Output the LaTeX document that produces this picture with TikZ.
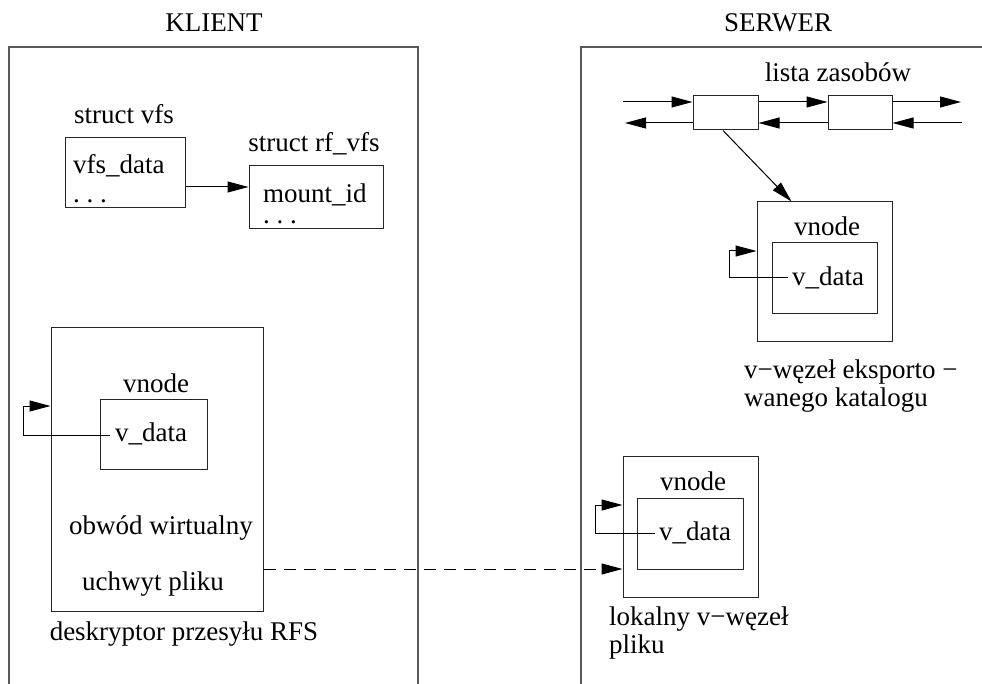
\documentclass[tikz,border=0pt]{standalone}
\usepackage{fontspec}
\setmainfont{Liberation Serif}
\usetikzlibrary{arrows.meta,calc}
\begin{document}
\begin{tikzpicture}[x=1pt,y=-1pt,
  panel/.style={line width=1.6pt, draw=black!65},
  box/.style={draw=black!85, line width=1pt, rectangle, inner sep=0pt},
  lbl/.style={font=\fontsize{27}{32}\selectfont, inner sep=0pt},
  arr/.style={line width=1pt, -{Triangle[length=21pt,width=11pt]}},
  dasharr/.style={arr, dash pattern=on 12pt off 8pt}]
\useasboundingbox (0,0) rectangle (982,684);
% panels
\draw[panel] (9,684) -- (9,47) -- (418,47) -- (418,684);
\draw[panel] (581,684) -- (581,47) -- (984,47);
\node[lbl, anchor=base] (tklient) at (214,32) {KLIENT};
\node[lbl, anchor=base] (tserwer) at (778,32) {SERWER};
% client structs
\node[lbl, anchor=base] (tsvfs) at (124,124) {struct vfs};
\node[box, minimum width=120pt, minimum height=70pt] (vfs) at (125,173) {};
\node[lbl, anchor=base west, text depth=2pt] (tvfsdata) at (73,174) {vfs\_data};
\node[lbl, anchor=base west, text height=3pt] (tdots1) at (73,203) {.\ .\ .};
\node[lbl, anchor=base] (tsrf) at (314,152) {struct rf\_vfs};
\node[box, minimum width=134pt, minimum height=63pt] (rf) at (316,197.5) {};
\node[lbl, anchor=base west, text depth=2pt] (tmount) at (263,203) {mount\_id};
\node[lbl, anchor=base west, text height=3pt] (tdots2) at (263,224) {.\ .\ .};
\draw[arr] (vfs.east |- 0,187) -- (rf.west |- 0,187);
% RFS descriptor
\node[box, minimum width=212pt, minimum height=283pt] (rfs) at (157,469.5) {};
\node[lbl, anchor=base] (tlvnode) at (156,392) {vnode};
\node[box, minimum width=107pt, minimum height=70pt] (lvi) at (153.5,434) {};
\node[lbl, anchor=base west] (lvd) at (115,441) {v\_data};
\draw[arr] ($(lvd.base west)+(-5,-6)$) -- (23,435) -- (23,406) -- (rfs.west |- 0,406);
\node[lbl, anchor=base] (tobw) at (161,534) {obwód wirtualny};
\node[lbl, anchor=base] (tuch) at (153,590) {uchwyt pliku};
\node[lbl, anchor=base] (tdesk) at (184,640) {deskryptor przesyłu RFS};
% server list
\node[lbl, anchor=base] (tlista) at (838,82) {lista zasobów};
\node[box, minimum width=65pt, minimum height=34pt] (b1) at (725.5,113) {};
\node[box, minimum width=64pt, minimum height=34pt] (b2) at (860,113) {};
\coordinate (lin) at (623,102);
\coordinate (lout) at (625,123);
\coordinate (rout) at (961,102);
\coordinate (rin) at (962,123);
\draw[arr] (lin) -- (lin -| b1.west);
\draw[arr] (b1.east |- lin) -- (b2.west |- lin);
\draw[arr] (b2.east |- lin) -- (rout);
\draw[arr] (b1.west |- lout) -- (lout);
\draw[arr] (b2.west |- lout) -- (b1.east |- lout);
\draw[arr] (rin) -- (b2.east |- rin);
% exported dir vnode
\node[box, minimum width=135pt, minimum height=140pt] (ro) at (824.5,272) {};
\node[box, minimum width=105pt, minimum height=71pt] (ri) at (824.5,278.5) {};
\node[lbl, anchor=base] (trvnode) at (827,236) {vnode};
\node[lbl, anchor=base west] (rvd) at (792,286) {v\_data};
\draw[arr] ($(rvd.base west)+(-4,-8)$) -- (729,278) -- (729,251) -- (ro.west |- 0,251);
\draw[arr] ([xshift=-2.5pt]b1.south) -- ([xshift=35pt]ro.north west);
\node[lbl, anchor=base west] (texp1) at (744,378) {v−węzeł eksporto −};
\node[lbl, anchor=base west] (texp2) at (744,406) {wanego katalogu};
% local file vnode
\node[box, minimum width=135pt, minimum height=141pt] (lo) at (690.5,526.5) {};
\node[box, minimum width=106pt, minimum height=71pt] (li) at (690,533.5) {};
\node[lbl, anchor=base] (tlovnode) at (693,490) {vnode};
\node[lbl, anchor=base west] (lovd) at (659,540) {v\_data};
\draw[arr] ($(lovd.base west)+(-4,-7)$) -- (595,533) -- (595,505) -- (lo.west |- 0,505);
\node[lbl, anchor=base west] (tlok1) at (609,625) {lokalny v−węzeł};
\node[lbl, anchor=base west] (tlok2) at (609,653) {pliku};
% dashed link
\draw[dasharr] (rfs.east |- 0,569) -- (lo.west |- 0,569);
\end{tikzpicture}
\end{document}
